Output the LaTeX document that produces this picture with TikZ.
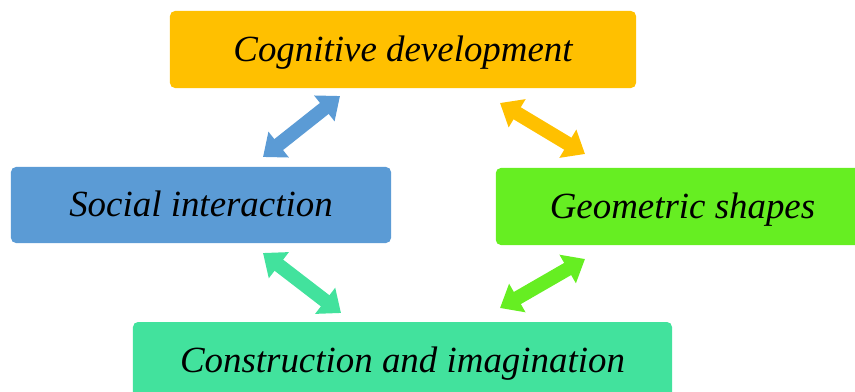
\documentclass[tikz,border=0pt]{standalone}
\usepackage{fontspec}
\setmainfont{Liberation Serif}
\usetikzlibrary{arrows.meta}
\definecolor{cognitiveColor}{HTML}{FFC000}
\definecolor{socialColor}{HTML}{5B9BD5}
\definecolor{shapesColor}{HTML}{66EE22}
\definecolor{constructColor}{HTML}{42E29D}
\tikzset{
  box/.style={rounded corners=0.15cm, inner sep=0pt, text depth=0.05cm,
    font=\fontsize{31.5}{36}\selectfont\itshape},
  dblarrow/.style={line width=0.42cm,
    {Triangle[width=0.95cm,length=0.6cm]}-{Triangle[width=0.95cm,length=0.6cm]}}
}
\begin{document}
\begin{tikzpicture}[x=0.03cm,y=-0.03cm]
          \useasboundingbox (0,0) rectangle (855,392);
          \clip (0,0) rectangle (855,392);
          \node[box, fill=cognitiveColor, minimum width=13.98cm, minimum height=2.31cm] (cog) at (403,49.5) {Cognitive development};
          \node[box, fill=socialColor, minimum width=11.4cm, minimum height=2.28cm] (soc) at (201,205) {Social interaction};
          \node[box, fill=shapesColor, minimum width=11.2cm, minimum height=2.31cm] (geo) at (682.5,206.5) {Geometric shapes};
          \node[box, fill=constructColor, minimum width=16.17cm, minimum height=2.31cm] (con) at (402.5,360.5) {Construction and imagination};
          % arrow ends
          \coordinate (socTop) at (263,157);
          \coordinate (cogLeft) at (340,96);
          \coordinate (cogRight) at (500,103);
          \coordinate (geoTop) at (585,154);
          \coordinate (socBot) at (263,253);
          \coordinate (conLeft) at (341,313);
          \coordinate (geoBot) at (585,259);
          \coordinate (conRight) at (500,308);
          \draw[dblarrow, socialColor] (socTop) -- (cogLeft);
          \draw[dblarrow, cognitiveColor] (cogRight) -- (geoTop);
          \draw[dblarrow, constructColor] (socBot) -- (conLeft);
          \draw[dblarrow, shapesColor] (geoBot) -- (conRight);
        \end{tikzpicture}
\end{document}
